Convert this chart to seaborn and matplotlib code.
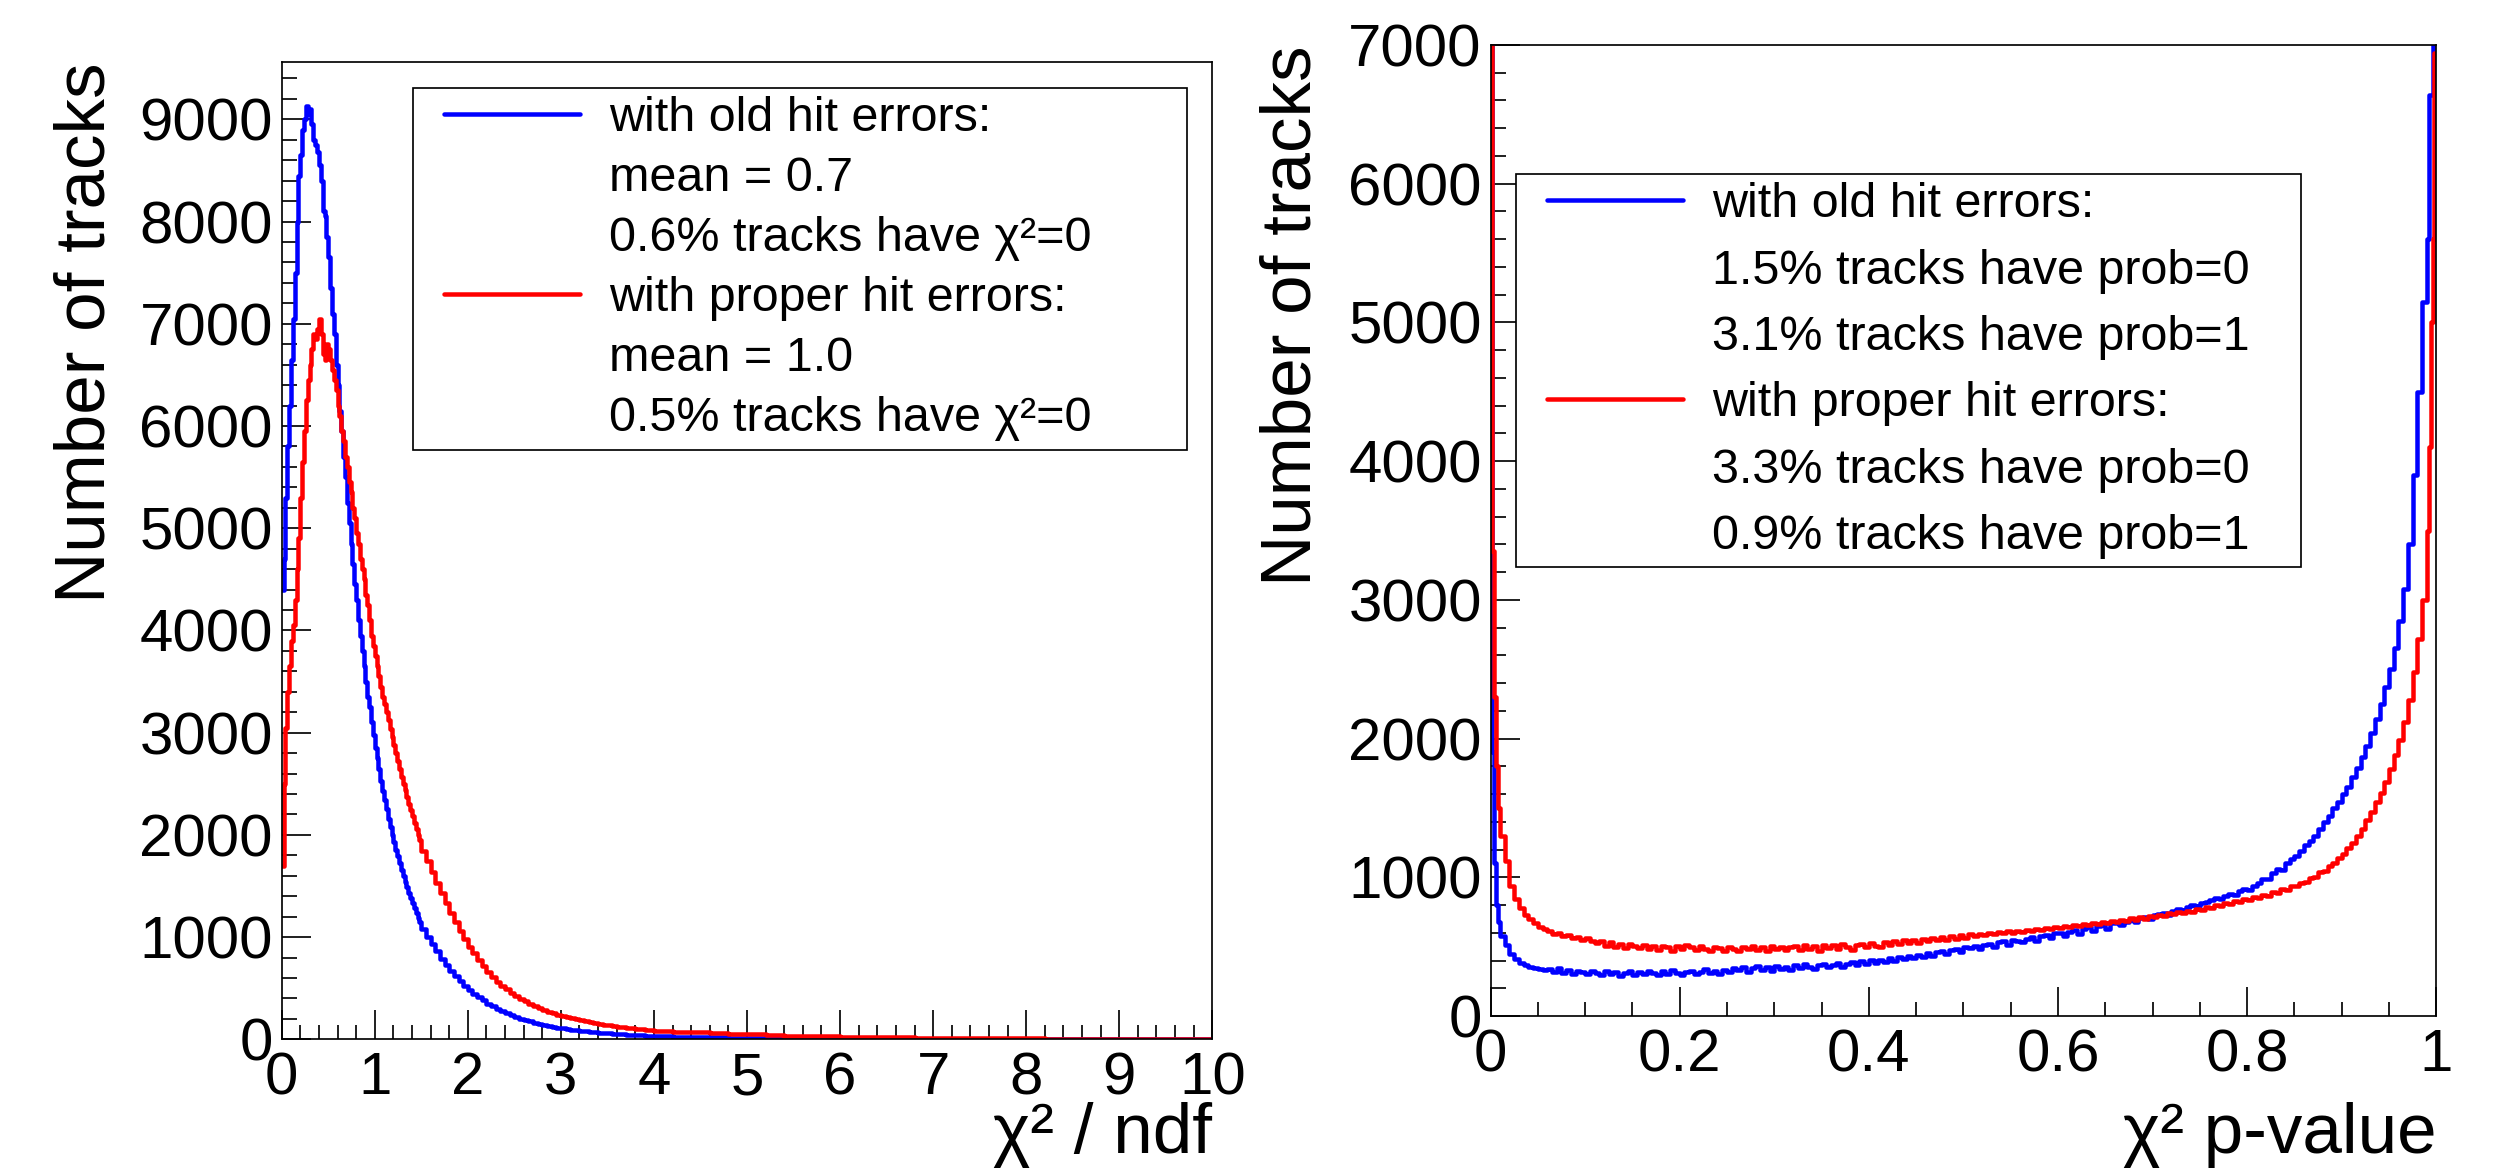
import numpy as np
import pandas as pd
import matplotlib
matplotlib.use("Agg")
import matplotlib.pyplot as plt
import seaborn as sns
from matplotlib.lines import Line2D
from matplotlib.legend_handler import HandlerLine2D
from matplotlib.ticker import AutoMinorLocator

# ---------------- data ----------------
# left panel: chi2/ndf, counts per bin; bins: 0-1.5 step .02, 1.5-4 step .05, 4-10 step .2
chi2_old_fine = [4400, 4700, 5300, 5800, 6200, 6650, 7050, 7500, 8000, 8450,
                 8650, 8900, 9000, 9130, 9050, 9100, 8950, 8800, 8750, 8680,
                 8550, 8400, 8100, 8050, 7850,
                 7650, 7350, 7100, 6900, 6600, 6400, 6150, 5950, 5700, 5500,
                 5250, 5050, 4850, 4650, 4450, 4300, 4100, 3950, 3800, 3650,
                 3500, 3350, 3250, 3100, 2980,
                 2850, 2750, 2640, 2530, 2430, 2340, 2250, 2160, 2080, 2000,
                 1930, 1850, 1790, 1720, 1660, 1600, 1540, 1490, 1430, 1380,
                 1330, 1280, 1240, 1190, 1150]
chi2_old_mid = [1080, 1000, 930, 860, 790, 730, 670, 620, 570, 525,
                485, 445, 410, 380, 350, 322, 298, 275, 255, 236,
                218, 202, 188, 175, 162, 151, 141, 132, 123, 115,
                108, 101, 95, 89, 84, 79, 74, 70, 66, 62,
                58, 55, 52, 49, 46, 44, 41, 39, 37, 35]
chi2_old_tail = [32, 27, 23, 20, 17, 14, 12, 10, 9, 8,
                 7, 6, 5, 4, 4, 3, 3, 3, 2, 2,
                 2, 2, 2, 1, 1, 1, 1, 1, 1, 1]

chi2_new_fine = [1700, 2500, 3050, 3400, 3650, 3900, 4050, 4300, 4600, 4900,
                 5300, 5650, 5950, 6250, 6450, 6600, 6750, 6900, 6850, 6950,
                 7050, 6900, 6700, 6650, 6800,
                 6750, 6650, 6550, 6450, 6350, 6200, 6100, 5950, 5850, 5700,
                 5600, 5450, 5350, 5200, 5100, 4950, 4850, 4700, 4600, 4500,
                 4350, 4250, 4100, 3950, 3850,
                 3750, 3650, 3550, 3450, 3350, 3280, 3200, 3120, 3040, 2960,
                 2880, 2800, 2720, 2640, 2570, 2500, 2440, 2370, 2300, 2240,
                 2180, 2120, 2060, 2000, 1950]
chi2_new_mid = [1840, 1740, 1640, 1530, 1430, 1330, 1240, 1150, 1060, 980,
                900, 840, 780, 720, 660, 610, 565, 525, 490, 455,
                425, 398, 372, 348, 326, 305, 287, 270, 254, 240,
                227, 215, 204, 194, 184, 175, 166, 158, 150, 143,
                136, 130, 124, 118, 113, 108, 103, 98, 94, 90]
chi2_new_tail = [84, 75, 67, 60, 53, 47, 42, 37, 33, 29,
                 26, 23, 20, 18, 16, 14, 13, 11, 10, 9,
                 8, 7, 7, 6, 6, 5, 5, 4, 4, 4]

# right panel: p-value; bins: 0-0.01 step .002, .01-.99 step .005, .99-1 step .002
pval_old = [9000, 1900, 1100, 800, 680,
            580, 510, 450, 410, 385, 365, 355, 345, 340, 335,
            338, 318, 345, 312, 330, 305, 328, 315, 300, 322,
            310, 295, 325, 302, 318, 290, 312, 325, 298, 315,
            300, 328, 310, 295, 322, 305, 335, 312, 298, 320,
            325, 300, 318, 340, 312, 328, 305, 335, 320, 345,
            330, 352, 320, 345, 362, 335, 350, 328, 360, 342,
            355, 335, 365, 345, 372, 350, 340, 368, 378, 352,
            370, 385, 355, 378, 392, 365, 398, 375, 402, 380,
            405, 388, 418, 400, 428, 408, 435, 415, 442, 425,
            452, 432, 462, 470, 445, 478, 485, 462, 495, 488,
            505, 482, 512, 522, 498, 530, 538, 512, 548, 540,
            530, 558, 568, 542, 578, 585, 560, 595, 600, 575,
            605, 620, 592, 630, 640, 612, 650, 662, 630, 668,
            668, 655, 680, 692, 678, 705, 715, 700, 725, 738,
            745, 730, 758, 770, 762, 785, 798, 790, 812, 820,
            835, 850, 842, 865, 880, 872, 900, 918, 910, 935,
            960, 990, 985, 1030, 1060, 1050, 1100, 1130, 1150, 1190,
            1230, 1260, 1300, 1350, 1400, 1440, 1500, 1540, 1600, 1650,
            1720, 1790, 1870, 1950, 2040, 2140, 2250, 2370, 2500, 2650,
            2850, 3080, 3400, 3900, 4500, 5150,
            5600, 6640, 6640, 9000, 9000]
pval_new = [9000, 3350, 2300, 1800, 1500,
            1300, 1120, 940, 840, 780, 730, 700, 670, 640, 625,
            610, 590, 600, 575, 585, 560, 572, 550, 560, 540,
            525, 540, 505, 530, 498, 522, 490, 518, 505, 488,
            512, 485, 505, 478, 508, 495, 472, 502, 482, 510,
            495, 475, 505, 482, 470, 500, 488, 468, 498, 480,
            470, 500, 482, 508, 478, 495, 465, 505, 480, 498,
            475, 500, 508, 478, 512, 485, 502, 470, 510, 488,
            512, 482, 520, 495, 478, 515, 522, 495, 528, 505,
            500, 532, 512, 538, 518, 545, 525, 550, 528, 555,
            538, 562, 545, 570, 550, 578, 558, 582, 565, 590,
            575, 590, 582, 598, 588, 605, 595, 610, 600, 615,
            608, 622, 615, 630, 620, 638, 628, 645, 635, 650,
            642, 658, 650, 665, 655, 672, 662, 680, 670, 688,
            678, 695, 688, 705, 695, 712, 702, 720, 712, 730,
            722, 740, 732, 750, 742, 760, 752, 772, 765, 785,
            778, 798, 790, 812, 805, 828, 820, 842, 835, 858,
            852, 875, 868, 892, 888, 912, 908, 935, 935, 962,
            965, 995, 1000, 1035, 1045, 1080, 1100, 1140, 1170, 1210,
            1250, 1300, 1350, 1410, 1470, 1540, 1610, 1690, 1780, 1880,
            1990, 2120, 2280, 2480, 2720, 3000,
            3500, 4100, 5000, 5600, 6940]

left_xticks = [0, 1, 2, 3, 4, 5, 6, 7, 8, 9, 10]
left_xtick_labels = ["0", "1", "2", "3", "4", "5", "6", "7", "8", "9", "10"]
left_yticks = [0, 1000, 2000, 3000, 4000, 5000, 6000, 7000, 8000, 9000]
left_ytick_labels = ["0", "1000", "2000", "3000", "4000", "5000", "6000", "7000", "8000", "9000"]
right_xticks = [0, 0.2, 0.4, 0.6, 0.8, 1.0]
right_xtick_labels = ["0", "0.2", "0.4", "0.6", "0.8", "1"]
right_yticks = [0, 1000, 2000, 3000, 4000, 5000, 6000, 7000]
right_ytick_labels = ["0", "1000", "2000", "3000", "4000", "5000", "6000", "7000"]

left_legend = ["with old hit errors:", "mean = 0.7", "0.6% tracks have χ²=0",
               "with proper hit errors:", "mean = 1.0", "0.5% tracks have χ²=0"]
right_legend = ["with old hit errors:", "1.5% tracks have prob=0", "3.1% tracks have prob=1",
                "with proper hit errors:", "3.3% tracks have prob=0", "0.9% tracks have prob=1"]

BLUE = "#0000ff"
RED = "#ff0000"

# ---------------- style ----------------
sns.set_style("white")
plt.rcParams['font.family'] = ['Liberation Sans', 'DejaVu Sans']
plt.rcParams['text.color'] = 'black'
plt.rcParams['axes.labelcolor'] = 'black'
plt.rcParams['xtick.color'] = 'black'
plt.rcParams['ytick.color'] = 'black'

DPI = 100
W, H = 2496, 1170


def pt(p):
    return p * 72.0 / DPI


fig = plt.figure(figsize=(W / DPI, H / DPI), dpi=DPI)
fig.patch.set_facecolor("white")

ax1 = fig.add_axes([281.7 / W, (H - 1039.3) / H, 930.6 / W, 977.0 / H])
ax2 = fig.add_axes([1490.5 / W, (H - 1016.0) / H, 945.8 / W, 971.0 / H])

left_edges = np.concatenate([np.linspace(0, 1.5, 76)[:-1],
                             np.linspace(1.5, 4.0, 51)[:-1],
                             np.linspace(4.0, 10.0, 31)])
right_edges = np.concatenate([np.linspace(0, 0.01, 6)[:-1],
                              np.linspace(0.01, 0.99, 197)[:-1],
                              np.linspace(0.99, 1.0, 6)])
left_centers = 0.5 * (left_edges[:-1] + left_edges[1:])
right_centers = 0.5 * (right_edges[:-1] + right_edges[1:])

chi2_old = chi2_old_fine + chi2_old_mid + chi2_old_tail
chi2_new = chi2_new_fine + chi2_new_mid + chi2_new_tail

LW = pt(4.5)
for vals, col in [(chi2_old, BLUE), (chi2_new, RED)]:
    df = pd.DataFrame({"x": left_centers, "w": np.asarray(vals, dtype=float)})
    sns.histplot(data=df, x="x", weights="w", bins=list(left_edges), element="step",
                 fill=False, color=col, linewidth=LW, ax=ax1)
for vals, col in [(pval_old, BLUE), (pval_new, RED)]:
    df = pd.DataFrame({"x": right_centers, "w": np.asarray(vals, dtype=float)})
    sns.histplot(data=df, x="x", weights="w", bins=list(right_edges), element="step",
                 fill=False, color=col, linewidth=LW, ax=ax2)

ax1.set_xlim(0, 10)
ax1.set_ylim(0, 9558)
ax2.set_xlim(0, 1)
ax2.set_ylim(0, 7000)

ax1.set_xticks(left_xticks, labels=left_xtick_labels)
ax1.set_yticks(left_yticks, labels=left_ytick_labels)
ax2.set_xticks(right_xticks, labels=right_xtick_labels)
ax2.set_yticks(right_yticks, labels=right_ytick_labels)
ax1.xaxis.set_minor_locator(AutoMinorLocator(5))
ax1.yaxis.set_minor_locator(AutoMinorLocator(5))
ax2.xaxis.set_minor_locator(AutoMinorLocator(4))
ax2.yaxis.set_minor_locator(AutoMinorLocator(5))

for ax in (ax1, ax2):
    ax.set_facecolor("white")
    for s in ax.spines.values():
        s.set_visible(True)
        s.set_color("black")
        s.set_linewidth(pt(1.7))
    ax.tick_params(which="both", direction="in", bottom=True, left=True,
                   top=False, right=False, width=pt(1.7), color="black")
    ax.tick_params(which="major", length=pt(29), labelsize=pt(60))
    ax.tick_params(which="minor", length=pt(14.5))
    ax.tick_params(axis="y", which="major", pad=pt(8.7))
    ax.tick_params(axis="x", which="major", pad=pt(12))

ax1.set_ylabel("Number of tracks", fontsize=pt(71), loc="top")
ax1.yaxis.set_label_coords(-0.174, 1.0)
ax1.set_xlabel("χ² / ndf", fontsize=pt(71), loc="right")
ax1.xaxis.set_label_coords(1.0, -0.1164)
ax1.xaxis.label.set_va("baseline")

ax2.set_ylabel("Number of tracks", fontsize=pt(71), loc="top")
ax2.yaxis.set_label_coords(-0.174, 1.0)
ax2.set_xlabel("χ² p-value", fontsize=pt(71), loc="right")
ax2.xaxis.set_label_coords(1.0, -0.1411)
ax2.xaxis.label.set_va("baseline")


def make_legend(ax, labels, x0, x1, ytop, spacing):
    handles = [Line2D([], [], color=BLUE, lw=LW), Line2D([], [], color="none"),
               Line2D([], [], color="none"), Line2D([], [], color=RED, lw=LW),
               Line2D([], [], color="none"), Line2D([], [], color="none")]
    leg = ax.legend(handles, labels, loc="upper left",
                    bbox_to_anchor=(x0 / W, 1 - ytop / H, (x1 - x0) / W, 0),
                    bbox_transform=fig.transFigure, mode="expand",
                    borderaxespad=0, fontsize=pt(48.5), frameon=True,
                    fancybox=False, shadow=False, edgecolor="black", framealpha=1,
                    borderpad=0.17, labelspacing=spacing, handlelength=3.75,
                    handleheight=0.7, handletextpad=0.12,
                    handler_map={Line2D: HandlerLine2D(numpoints=2, marker_pad=0.47)})
    leg.get_frame().set_linewidth(pt(1.7))
    return leg


make_legend(ax1, left_legend, 413, 1186.7, 88, 0.31)
make_legend(ax2, right_legend, 1516, 2301, 174, 0.44)

fig.savefig("out.png", dpi=DPI)
